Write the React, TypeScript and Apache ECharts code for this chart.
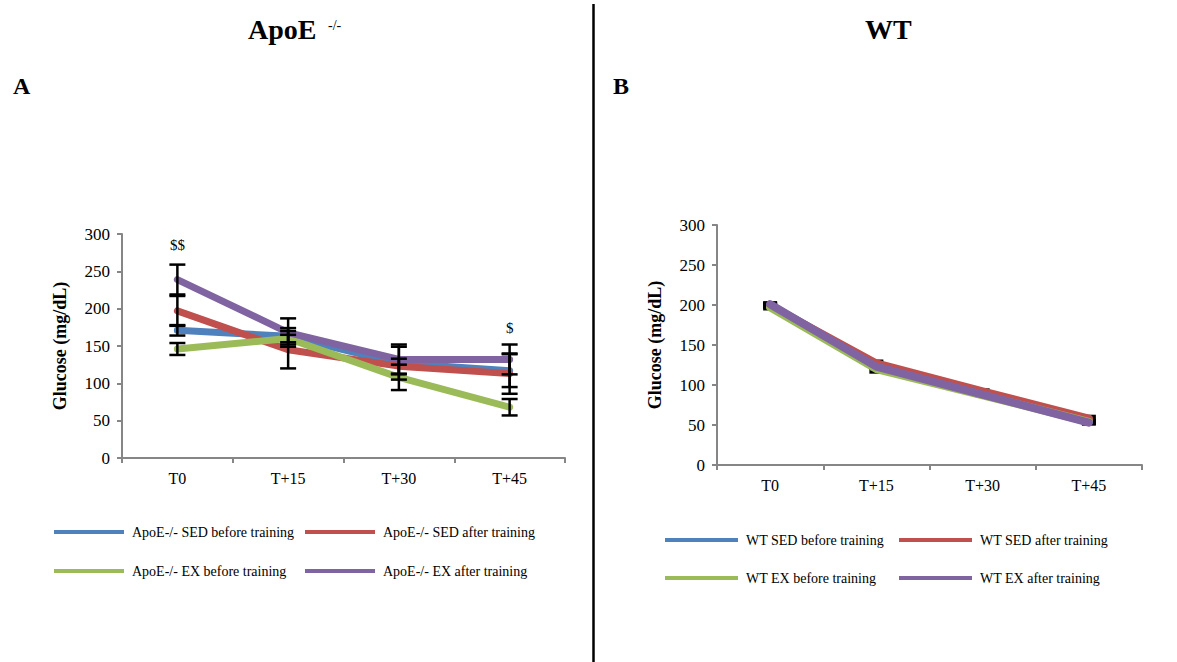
import React, { useEffect, useRef } from "react";
import * as echarts from "echarts";

const categories = ["T0", "T+15", "T+30", "T+45"];
const yTicks = [0, 50, 100, 150, 200, 250, 300];

const apoeNames = [
  "ApoE-/- SED before training",
  "ApoE-/- SED after training",
  "ApoE-/- EX before training",
  "ApoE-/- EX after training",
];
const apoeSedBefore = [171, 163, 127, 117];
const apoeSedAfter = [197, 145, 123, 113];
const apoeExBefore = [146, 160, 108, 68];
const apoeExAfter = [239, 168, 132, 132];
const apoeSedBeforeErr = [7, 11, 22, 22];
const apoeSedAfterErr = [20, 25, 10, 27];
const apoeExBeforeErr = [8, 5, 17, 11];
const apoeExAfterErr = [20, 19, 20, 20];
const apoeSigLabels = ["$$", "", "", "$"];
const apoeSigValues = [285, 0, 0, 174];

const wtNames = [
  "WT SED before training",
  "WT SED after training",
  "WT EX before training",
  "WT EX after training",
];
const wtSedBefore = [200, 124, 90, 56];
const wtSedAfter = [199, 127, 92, 58];
const wtExBefore = [197, 120, 87, 54];
const wtExAfter = [201, 123, 88, 53];
const wtSedBeforeErr = [2, 4, 2, 2];
const wtSedAfterErr = [2, 3, 2, 3];
const wtExBeforeErr = [2, 4, 1, 2];
const wtExAfterErr = [2, 3, 1, 2];

const colors = ["#4F81BD", "#C0504D", "#9BBB59", "#8064A2"];
const FONT = "'Liberation Serif', 'Times New Roman', serif";
const AXIS_COLOR = "#868686";

export default function App() {
  const ref = useRef<HTMLDivElement>(null);

  useEffect(() => {
    if (!ref.current) return;
    const chart = echarts.init(ref.current, null, { renderer: "svg" });

    const apoeValues = [apoeSedBefore, apoeSedAfter, apoeExBefore, apoeExAfter];
    const apoeErrs = [apoeSedBeforeErr, apoeSedAfterErr, apoeExBeforeErr, apoeExAfterErr];
    const wtValues = [wtSedBefore, wtSedAfter, wtExBefore, wtExAfter];
    const wtErrs = [wtSedBeforeErr, wtSedAfterErr, wtExBeforeErr, wtExAfterErr];

    const errData = (vals: number[][], errs: number[][]) => {
      const out: number[][] = [];
      vals.forEach((v, s) =>
        v.forEach((y, i) => out.push([i, y - errs[s][i], y + errs[s][i]]))
      );
      return out;
    };

    const makeErrSeries = (idx: number, vals: number[][], errs: number[][], cap: number, lw: number, z: number) => ({
      type: "custom",
      xAxisIndex: idx,
      yAxisIndex: idx,
      z,
      data: errData(vals, errs),
      renderItem: (params: any, api: any) => {
        const x = api.value(0);
        const lo = api.coord([x, api.value(1)]);
        const hi = api.coord([x, api.value(2)]);
        const style = { stroke: "#000", lineWidth: lw };
        return {
          type: "group",
          children: [
            { type: "line", shape: { x1: lo[0], y1: lo[1], x2: hi[0], y2: hi[1] }, style },
            { type: "line", shape: { x1: lo[0] - cap, y1: lo[1], x2: lo[0] + cap, y2: lo[1] }, style },
            { type: "line", shape: { x1: hi[0] - cap, y1: hi[1], x2: hi[0] + cap, y2: hi[1] }, style },
          ],
        };
      },
    });

    const lineSeries = (names: string[], vals: number[][], idx: number, width: number) =>
      names.map((n, s) => ({
        name: n,
        type: "line",
        xAxisIndex: idx,
        yAxisIndex: idx,
        data: vals[s],
        showSymbol: false,
        symbol: "none",
        z: 3,
        color: colors[s],
        lineStyle: { width, color: colors[s], cap: "round", join: "round" },
      }));

    const xAxis = (idx: number) => ({
      type: "category",
      gridIndex: idx,
      data: categories,
      boundaryGap: true,
      axisLine: { lineStyle: { color: AXIS_COLOR, width: 2 } },
      axisTick: { show: true, alignWithLabel: false, length: 5, lineStyle: { color: AXIS_COLOR, width: 2 } },
      axisLabel: { color: "#000", fontFamily: FONT, fontSize: 16, margin: 12 },
      splitLine: { show: false },
    });

    const yAxis = (idx: number) => ({
      type: "value",
      gridIndex: idx,
      min: 0,
      max: 300,
      interval: 50,
      name: "Glucose (mg/dL)",
      nameLocation: "middle",
      nameGap: 53,
      nameTextStyle: { fontFamily: FONT, fontSize: 18, fontWeight: "bold", color: "#000" },
      axisLine: { show: true, lineStyle: { color: AXIS_COLOR, width: 2 } },
      axisTick: { show: true, length: 5, lineStyle: { color: AXIS_COLOR, width: 2 } },
      axisLabel: {
        color: "#000",
        fontFamily: FONT,
        fontSize: 17,
        margin: 12,
        formatter: (v: number) => (yTicks.includes(v) ? String(v) : ""),
      },
      splitLine: { show: false },
    });

    const legendPos = [
      { x: 54, y: 532 },
      { x: 305, y: 532 },
      { x: 54, y: 571 },
      { x: 305, y: 571 },
    ];
    const legendPosR = [
      { x: 665, y: 540 },
      { x: 899, y: 540 },
      { x: 665, y: 578 },
      { x: 899, y: 578 },
    ];
    const legends: any[] = [];
    const addLegends = (names: string[], pos: { x: number; y: number }[], w: number) =>
      names.forEach((n, i) =>
        legends.push({
          data: [n],
          left: pos[i].x,
          top: pos[i].y - 8,
          padding: 0,
          icon: "rect",
          itemWidth: w,
          itemHeight: 4,
          itemGap: 0,
          selectedMode: false,
          textStyle: { fontFamily: FONT, fontSize: 14, color: "#000", lineHeight: 16, padding: [0, 0, 0, 3] },
        })
      );
    addLegends(apoeNames, legendPos, 70);
    addLegends(wtNames, legendPosR, 73);

    const sigData = apoeSigLabels
      .map((l, i) => ({ name: l, value: [i, apoeSigValues[i]] }))
      .filter((d) => d.name !== "");

    chart.setOption({
      animation: false,
      backgroundColor: "#fff",
      textStyle: { fontFamily: FONT },
      grid: [
        { left: 122, top: 234, width: 443, height: 224 },
        { left: 717, top: 225, width: 425, height: 240 },
      ],
      xAxis: [xAxis(0), xAxis(1)],
      yAxis: [yAxis(0), yAxis(1)],
      legend: legends,
      series: [
        ...lineSeries(apoeNames, apoeValues, 0, 7),
        ...lineSeries(wtNames, wtValues, 1, 8),
        makeErrSeries(0, apoeValues, apoeErrs, 8, 2.5, 5),
        makeErrSeries(1, wtValues, wtErrs, 7, 3, 2),
        {
          type: "custom",
          xAxisIndex: 0,
          yAxisIndex: 0,
          z: 6,
          data: sigData,
          renderItem: (params: any, api: any) => {
            const p = api.coord([api.value(0), api.value(1)]);
            return {
              type: "text",
              x: p[0],
              y: p[1],
              style: {
                text: sigData[params.dataIndex].name,
                font: `15px ${FONT}`,
                fill: "#000",
                textAlign: "center",
                textVerticalAlign: "middle",
              },
            };
          },
        },
      ],
      graphic: [
        {
          type: "line",
          shape: { x1: 593.5, y1: 4, x2: 593.5, y2: 662 },
          style: { stroke: "#000", lineWidth: 2.5 },
        },
        {
          type: "text",
          x: 248,
          y: 29,
          style: { text: "ApoE", font: `bold 28px ${FONT}`, fill: "#000", textAlign: "left", textVerticalAlign: "middle" },
        },
        {
          type: "text",
          x: 328,
          y: 25,
          style: { text: "-/-", font: `14px ${FONT}`, fill: "#000", textAlign: "left", textVerticalAlign: "middle" },
        },
        {
          type: "text",
          x: 865,
          y: 29,
          style: { text: "WT", font: `bold 28px ${FONT}`, fill: "#000", textAlign: "left", textVerticalAlign: "middle" },
        },
        {
          type: "text",
          x: 13,
          y: 86,
          style: { text: "A", font: `bold 24px ${FONT}`, fill: "#000", textAlign: "left", textVerticalAlign: "middle" },
        },
        {
          type: "text",
          x: 613,
          y: 86,
          style: { text: "B", font: `bold 24px ${FONT}`, fill: "#000", textAlign: "left", textVerticalAlign: "middle" },
        },
      ],
    });

    return () => chart.dispose();
  }, []);

  return (
    <div
      ref={ref}
      style={{ position: "fixed", left: 0, top: 0, width: 1177, height: 662, background: "#fff" }}
    />
  );
}
